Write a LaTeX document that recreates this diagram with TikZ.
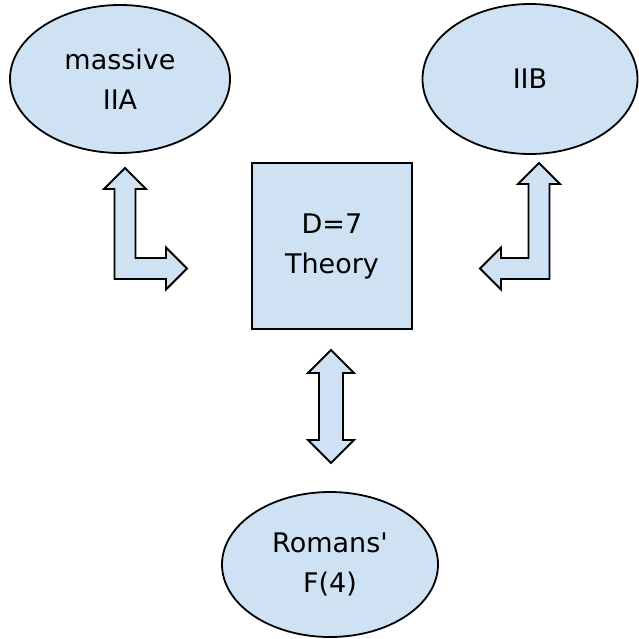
\documentclass[tikz,border=0pt]{standalone}
\usepackage{fontspec}
\setmainfont{DejaVu Sans}[Ligatures=TeXOff]
\usetikzlibrary{shapes.geometric}
\definecolor{boxfill}{HTML}{CFE2F3}
\tikzset{
  shapebase/.style={draw=black, fill=boxfill, line width=1.8pt, inner sep=0pt, align=center,
    font=\fontsize{27}{40}\selectfont},
  ell/.style={shapebase, ellipse},
  sq/.style={shapebase, rectangle},
  blockarrow/.style={draw=black, fill=boxfill, line width=1.8pt, line join=miter}
}
\begin{document}
\begin{tikzpicture}[x=1pt, y=-1pt]
\useasboundingbox (0,0) rectangle (639,639);
\node[ell, minimum width=220pt, minimum height=148pt] (iia) at (120,79) {massive\\IIA};
\node[ell, minimum width=215pt, minimum height=150pt] (iib) at (530,79) {IIB};
\node[sq, minimum width=160pt, minimum height=166pt] (d7) at (332,246) {D=7\\Theory};
\node[ell, minimum width=216pt, minimum height=145pt] (rom) at (330,564.5) {Romans'\\F(4)};
% left L arrow (massive IIA <-> D=7)
\draw[blockarrow] (125,168) -- (146,189) -- (135.5,189) -- (135.5,258) -- (166,258) -- (166,247.5)
  -- (187,268.5) -- (166,289.5) -- (166,279) -- (114.5,279) -- (114.5,189) -- (104,189) -- cycle;
% right L arrow (IIB <-> D=7)
\draw[blockarrow] (539,163) -- (560,184) -- (549.5,184) -- (549.5,279) -- (501,279) -- (501,289.5)
  -- (480,268.5) -- (501,247.5) -- (501,258) -- (528.5,258) -- (528.5,184) -- (518,184) -- cycle;
% vertical double arrow (D=7 <-> Romans' F(4))
\draw[blockarrow] (331,350) -- (354,373) -- (343,373) -- (343,440) -- (354,440) -- (331,463)
  -- (308,440) -- (319,440) -- (319,373) -- (308,373) -- cycle;
\end{tikzpicture}
\end{document}
